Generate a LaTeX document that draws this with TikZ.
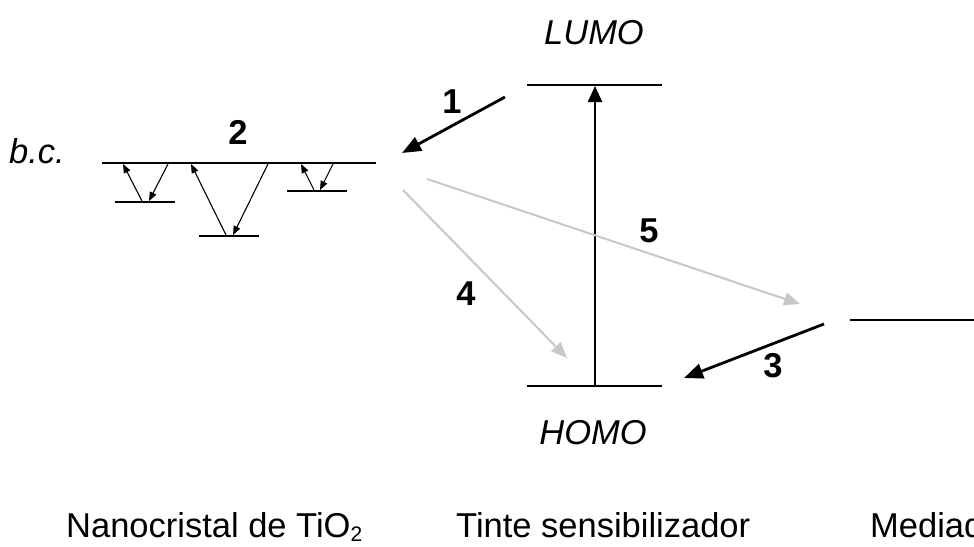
\documentclass[tikz,border=0pt]{standalone}
\usepackage{fontspec}
\setmainfont{Liberation Sans}
\usetikzlibrary{arrows.meta}
\definecolor{lgray}{RGB}{200,200,200}
\newcommand{\subtwo}{\raisebox{-0.12em}{\fontsize{21}{22}\selectfont 2}}
\begin{document}
\begin{tikzpicture}[x=1pt,y=-1pt,
  level/.style={line width=2.4pt},
  trap/.style={line width=1.1pt,-{Triangle[length=9pt,width=7pt]}},
  bigarrow/.style={line width=2.8pt,-{Triangle[length=19pt,width=15pt]}},
  greyarrow/.style={line width=2pt,lgray,-{Triangle[length=16pt,width=13pt]}},
  lab/.style={font=\fontsize{34.5}{38}\selectfont, inner sep=0pt, anchor=base},
  num/.style={lab,font=\fontsize{34.5}{38}\selectfont\bfseries},
  ital/.style={lab,font=\fontsize{34.5}{38}\selectfont\itshape}]
\clip (0,0) rectangle (974,546);
\fill[white] (0,0) rectangle (974,546);

% conduction band and traps
\coordinate (cbL) at (102,163); \coordinate (cbR) at (376,163);
\coordinate (t1L) at (115,202); \coordinate (t1R) at (175,202);
\coordinate (t2L) at (199,236); \coordinate (t2R) at (259,236);
\coordinate (t3L) at (287,191); \coordinate (t3R) at (347,191);
\draw[level] (cbL) -- (cbR);
\draw[level] (t1L) -- (t1R);
\draw[level] (t2L) -- (t2R);
\draw[level] (t3L) -- (t3R);

\coordinate (t1a) at (142,201); \coordinate (t1b) at (123,164);
\coordinate (t1c) at (168,164); \coordinate (t1d) at (149,201);
\coordinate (t2a) at (226,235); \coordinate (t2b) at (191,164);
\coordinate (t2c) at (268,164); \coordinate (t2d) at (233,235);
\coordinate (t3a) at (314,190); \coordinate (t3b) at (301,164);
\coordinate (t3c) at (333,164); \coordinate (t3d) at (320,190);
\draw[trap] (t1a) -- (t1b);
\draw[trap] (t1c) -- (t1d);
\draw[trap] (t2a) -- (t2b);
\draw[trap] (t2c) -- (t2d);
\draw[trap] (t3a) -- (t3b);
\draw[trap] (t3c) -- (t3d);

% dye levels
\coordinate (lumoL) at (527,85); \coordinate (lumoR) at (662,85);
\coordinate (homoL) at (527,386); \coordinate (homoR) at (662,386);
\draw[level] (lumoL) -- (lumoR);
\draw[level] (homoL) -- (homoR);
\coordinate (exB) at (595,386); \coordinate (exT) at (595,86);
\draw[line width=2.4pt,-{Triangle[length=16pt,width=14pt]}] (exB) -- (exT);

% mediator level
\coordinate (medL) at (850,320); \coordinate (medR) at (974,320);
\draw[level] (medL) -- (medR);

% transfer arrows
\coordinate (a1s) at (505,97); \coordinate (a1e) at (402,153);
\draw[bigarrow] (a1s) -- (a1e);
\coordinate (a3s) at (824,324); \coordinate (a3e) at (684,378);
\draw[bigarrow] (a3s) -- (a3e);
\coordinate (a5s) at (427,179); \coordinate (a5e) at (800,304);
\draw[greyarrow] (a5s) -- (a5e);
\coordinate (a4s) at (403,190); \coordinate (a4e) at (567,358);
\draw[greyarrow] (a4s) -- (a4e);

% labels
\node[ital] (lumo) at (594,44) {LUMO};
\node[ital] (homo) at (593,444) {HOMO};
\node[ital,anchor=base west] (bc) at (9,163) {b.c.};
\node[num] (n1) at (452,113) {1};
\node[num] (n2) at (238,144) {2};
\node[num] (n3) at (773,377) {3};
\node[num] (n4) at (466,305) {4};
\node[num] (n5) at (649,242) {5};

\node[lab,anchor=base west] (nano) at (66,537) {Nanocristal de TiO\subtwo};
\node[lab,anchor=base west] (tinte) at (456,537) {Tinte sensibilizador};
\node[lab,anchor=base west] (med) at (870,537) {Mediador};
\end{tikzpicture}
\end{document}
